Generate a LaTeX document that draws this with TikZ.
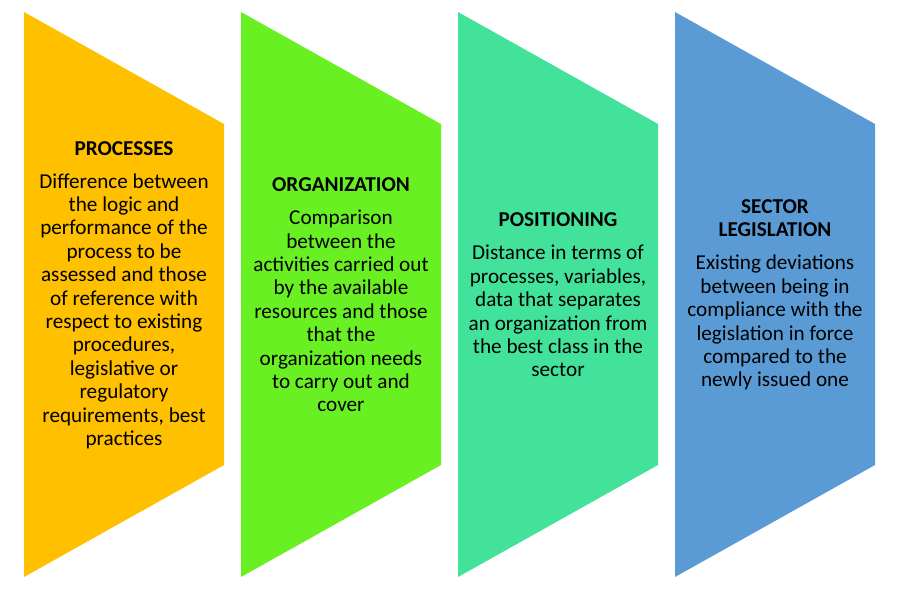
\documentclass[tikz,border=0pt]{standalone}
\usepackage{fontspec}
\setmainfont{Carlito}
\definecolor{cOrange}{HTML}{FFC000}
\definecolor{cGreen}{HTML}{69F023}
\definecolor{cTeal}{HTML}{42E29B}
\definecolor{cBlue}{HTML}{5B9BD5}
\tikzset{
  txt/.style={align=center, inner sep=0pt, text=black,
    font=\fontsize{21.2pt}{23.4pt}\selectfont},
}
\newcommand{\chevshape}[2]{%
  \fill[#2] (#1,12) -- (#1+200,124) -- (#1+200,465) -- (#1,577) -- cycle;}
\newcommand{\ttl}[1]{\textbf{#1}}
\begin{document}
\begin{tikzpicture}[x=1pt,y=-1pt]
\useasboundingbox (0,0) rectangle (897,598);
\chevshape{24}{cOrange}
\chevshape{241}{cGreen}
\chevshape{458}{cTeal}
\chevshape{675}{cBlue}
\node[txt] (t1) at (124,295) {\ttl{PROCESSES}\\[9.6pt]
Difference between\\ the logic and\\ performance of the\\ process to be\\ assessed and those\\ of reference with\\ respect to existing\\ procedures,\\ legislative or\\ regulatory\\ requirements, best\\ practices};
\node[txt] (t2) at (341,295) {\ttl{ORGANIZATION}\\[9.6pt]
Comparison\\ between the\\ activities carried out\\ by the available\\ resources and those\\ that the\\ organization needs\\ to carry out and\\ cover};
\node[txt] (t3) at (558,295) {\ttl{POSITIONING}\\[9.6pt]
Distance in terms of\\ processes, variables,\\ data that separates\\ an organization from\\ the best class in the\\ sector};
\node[txt] (t4) at (775,295) {\ttl{SECTOR}\\ \ttl{LEGISLATION}\\[9.6pt]
Existing deviations\\ between being in\\ compliance with the\\ legislation in force\\ compared to the\\ newly issued one};
\end{tikzpicture}
\end{document}
